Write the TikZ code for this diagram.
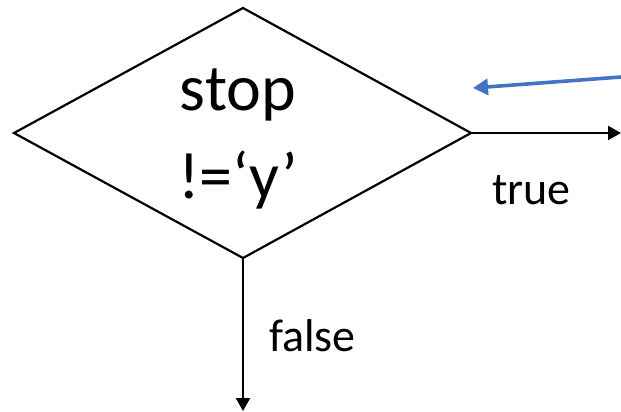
\documentclass[tikz,border=0pt]{standalone}
\usepackage{fontspec}
\setmainfont{Carlito}
\usetikzlibrary{arrows.meta}
\definecolor{linkblue}{HTML}{4472C4}
\tikzset{
  flow/.style={draw=black, line width=2.2pt, -{Triangle[length=13pt,width=14pt]}},
  pointer/.style={draw=linkblue, line width=3.6pt, -{Triangle[length=15pt,width=16pt]}},
  lbl/.style={font=\fontsize{46}{52}\selectfont, inner sep=0pt},
}
\begin{document}
\begin{tikzpicture}[x=1pt,y=-1pt]
  \useasboundingbox (0,0) rectangle (621,412);
  % decision diamond
  \coordinate (L) at (14,133);
  \coordinate (T) at (243,8);
  \coordinate (R) at (471,133);
  \coordinate (B) at (243,258);
  \draw[line width=2.2pt, line join=miter] (L) -- (T) -- (R) -- (B) -- cycle;
  \node[inner sep=0pt, align=center, font=\fontsize{66}{88}\selectfont] (cond) at (238,139) {stop\\!=‘y’};
  % branches
  \coordinate (trueEnd) at (621,133);
  \coordinate (falseEnd) at (243,411);
  \draw[flow] (R) -- (trueEnd);
  \draw[flow] (B) -- (falseEnd);
  \node[lbl, anchor=base west] (truelbl) at (492,204) {true};
  \node[lbl, anchor=base west] (falselbl) at (269,351) {false};
  % incoming pointer
  \coordinate (ptrStart) at (621,77);
  \coordinate (ptrEnd) at (473,88);
  \draw[pointer] (ptrStart) -- (ptrEnd);
\end{tikzpicture}
\end{document}
